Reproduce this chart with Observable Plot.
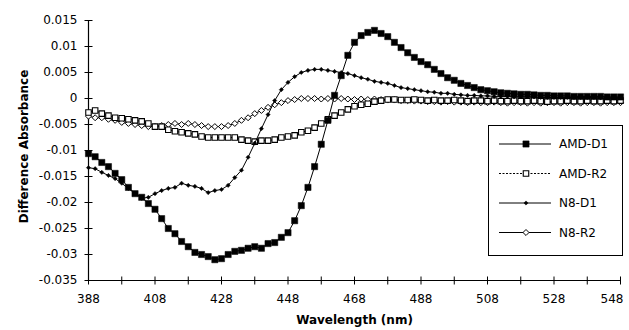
<!DOCTYPE html>
<html>
<head>
<meta charset="utf-8">
<script src="https://cdn.jsdelivr.net/npm/d3@7"></script>
<script src="https://cdn.jsdelivr.net/npm/@observablehq/plot@0.6"></script>
<style>
  html, body { margin: 0; padding: 0; background: #fff; }
  #wrap { position: relative; width: 629px; height: 330px; overflow: hidden; }
  #legend { position: absolute; left: 488px; top: 125px; width: 133px; height: 129px; border: 1px solid #000; background: #fff; }
</style>
</head>
<body>
<div id="wrap"><div id="chart"></div><div id="legend"></div></div>
<script>
const wavelengths = [388,390,392,394,396,398,400,402,404,406,408,410,412,414,416,418,420,422,424,426,428,430,432,434,436,438,440,442,444,446,448,450,452,454,456,458,460,462,464,466,468,470,472,474,476,478,480,482,484,486,488,490,492,494,496,498,500,502,504,506,508,510,512,514,516,518,520,522,524,526,528,530,532,534,536,538,540,542,544,546,548];

const amdD1 = [-0.0106,-0.0112,-0.0123,-0.0131,-0.0144,-0.0156,-0.0171,-0.0183,-0.0190,-0.0202,-0.0213,-0.0231,-0.0250,-0.0260,-0.0275,-0.0285,-0.0296,-0.0300,-0.0304,-0.0310,-0.0308,-0.0300,-0.0294,-0.0292,-0.0288,-0.0285,-0.0288,-0.0279,-0.0277,-0.0267,-0.0258,-0.0235,-0.0206,-0.0171,-0.0131,-0.0088,-0.0042,0.0006,0.0044,0.0083,0.0108,0.0121,0.0127,0.0131,0.0125,0.0119,0.0108,0.0098,0.0088,0.0079,0.0071,0.0065,0.0056,0.0048,0.0040,0.0035,0.0029,0.0025,0.0021,0.0017,0.0015,0.0013,0.0011,0.0010,0.0009,0.0008,0.0008,0.0007,0.0006,0.0006,0.0005,0.0005,0.0005,0.0004,0.0004,0.0004,0.0004,0.0004,0.0003,0.0003,0.0003];

const amdR2 = [-0.0027,-0.0023,-0.0029,-0.0033,-0.0037,-0.0038,-0.0040,-0.0042,-0.0044,-0.0048,-0.0054,-0.0054,-0.0060,-0.0063,-0.0065,-0.0067,-0.0069,-0.0073,-0.0075,-0.0075,-0.0075,-0.0075,-0.0075,-0.0079,-0.0081,-0.0083,-0.0081,-0.0081,-0.0079,-0.0075,-0.0073,-0.0071,-0.0065,-0.0062,-0.0056,-0.0048,-0.0040,-0.0033,-0.0027,-0.0021,-0.0015,-0.0012,-0.0010,-0.0006,-0.0004,-0.0002,-0.0002,-0.0003,-0.0003,-0.0002,-0.0003,-0.0004,-0.0003,-0.0004,-0.0004,-0.0003,-0.0004,-0.0005,-0.0004,-0.0004,-0.0005,-0.0004,-0.0005,-0.0005,-0.0004,-0.0005,-0.0005,-0.0004,-0.0005,-0.0006,-0.0005,-0.0005,-0.0004,-0.0005,-0.0005,-0.0004,-0.0005,-0.0005,-0.0004,-0.0005,-0.0004];

const n8D1 = [-0.0133,-0.0135,-0.0142,-0.0148,-0.0154,-0.0163,-0.0173,-0.0183,-0.0192,-0.0190,-0.0183,-0.0177,-0.0173,-0.0171,-0.0163,-0.0167,-0.0169,-0.0173,-0.0181,-0.0177,-0.0175,-0.0167,-0.0152,-0.0138,-0.0113,-0.0086,-0.0058,-0.0031,-0.0004,0.0017,0.0031,0.0042,0.0050,0.0054,0.0056,0.0056,0.0054,0.0052,0.0050,0.0048,0.0044,0.0040,0.0037,0.0033,0.0031,0.0029,0.0025,0.0021,0.0019,0.0017,0.0015,0.0013,0.0012,0.0010,0.0010,0.0008,0.0007,0.0006,0.0006,0.0005,0.0005,0.0004,0.0004,0.0004,0.0003,0.0003,0.0003,0.0003,0.0002,0.0002,0.0002,0.0002,0.0002,0.0002,0.0002,0.0002,0.0002,0.0001,0.0001,0.0001,0.0001];

const n8R2 = [-0.0034,-0.0037,-0.0037,-0.0040,-0.0042,-0.0046,-0.0048,-0.0050,-0.0052,-0.0054,-0.0054,-0.0052,-0.0050,-0.0048,-0.0050,-0.0048,-0.0050,-0.0052,-0.0054,-0.0054,-0.0054,-0.0052,-0.0048,-0.0042,-0.0037,-0.0029,-0.0023,-0.0017,-0.0012,-0.0008,-0.0004,-0.0002,0.0000,0.0000,0.0000,-0.0001,0.0000,-0.0001,0.0000,-0.0001,-0.0002,-0.0001,-0.0002,-0.0001,-0.0002,-0.0003,-0.0003,-0.0004,-0.0004,-0.0005,-0.0005,-0.0006,-0.0006,-0.0007,-0.0006,-0.0007,-0.0007,-0.0008,-0.0007,-0.0008,-0.0008,-0.0007,-0.0008,-0.0009,-0.0008,-0.0008,-0.0009,-0.0008,-0.0009,-0.0008,-0.0008,-0.0009,-0.0008,-0.0008,-0.0009,-0.0008,-0.0008,-0.0009,-0.0008,-0.0008,-0.0008];

const seriesNames = ["AMD-D1", "AMD-R2", "N8-D1", "N8-R2"];
const xDomain = [388, 548];
const yDomain = [-0.035, 0.015];
const xTickLabels = [388, 408, 428, 448, 468, 488, 508, 528, 548];
const xTicks = [388, 398, 408, 418, 428, 438, 448, 458, 468, 478, 488, 498, 508, 518, 528, 538, 548];
const yTicks = [0.015, 0.01, 0.005, 0, -0.005, -0.01, -0.015, -0.02, -0.025, -0.03, -0.035];
const xLabel = "Wavelength (nm)";
const yLabel = "Difference Absorbance";

const seriesValues = [amdD1, amdR2, n8D1, n8R2];
const styles = {
  "AMD-D1": {symbol: "square", r: 3.5, fill: "#000", stroke: "#000", sw: 0.5, dash: null},
  "AMD-R2": {symbol: "square", r: 3.1, fill: "#fff", stroke: "#000", sw: 1.1, dash: "2,1.5"},
  "N8-D1":  {symbol: "diamond2", r: 1.9, fill: "#000", stroke: "#000", sw: 0.5, dash: null},
  "N8-R2":  {symbol: "diamond2", r: 2.7, fill: "#fff", stroke: "#000", sw: 1, dash: null}
};

const rows = seriesNames.map((name, i) => wavelengths.map((w, j) => ({series: name, x: w, y: seriesValues[i][j]})));

const hTick = {draw(ctx) { ctx.moveTo(-4, 0); ctx.lineTo(4, 0); }};
const vTick = {draw(ctx) { ctx.moveTo(0, -4); ctx.lineTo(0, 4); }};

const drawOrder = [3, 1, 2, 0];
const seriesMarks = drawOrder.flatMap(i => {
  const s = styles[seriesNames[i]];
  return [
    Plot.line(rows[i], {x: "x", y: "y", stroke: "#000", strokeWidth: 1}),
    Plot.dot(rows[i], {x: "x", y: "y", symbol: s.symbol, r: s.r, fill: s.fill, stroke: s.stroke, strokeWidth: s.sw})
  ];
});

const lastX = xTickLabels[xTickLabels.length - 1];

const chart = Plot.plot({
  width: 629,
  height: 330,
  marginLeft: 88,
  marginRight: 9,
  marginTop: 20,
  marginBottom: 50,
  x: {domain: xDomain, label: null},
  y: {domain: yDomain, label: null},
  style: {fontFamily: "'DejaVu Sans', sans-serif", fontSize: "12px", color: "#000", background: "#fff"},
  marks: [
    Plot.ruleX([xDomain[0]], {y1: yDomain[0], y2: yDomain[1], stroke: "#000", strokeWidth: 1.2}),
    Plot.ruleY([yDomain[0]], {x1: xDomain[0], x2: xDomain[1], stroke: "#000", strokeWidth: 1.2}),
    Plot.dot(yTicks, {x: () => xDomain[0], y: d => d, symbol: hTick, r: 4, stroke: "#000", fill: "none", strokeWidth: 1}),
    Plot.dot(xTicks, {x: d => d, y: () => yDomain[0], symbol: vTick, r: 4, stroke: "#000", fill: "none", strokeWidth: 1}),
    Plot.axisY(yTicks, {tickSize: 0, tickPadding: 11, tickFormat: d => String(d), label: null}),
    Plot.axisX(xTickLabels.slice(0, -1), {tickSize: 0, tickPadding: 14, tickFormat: d => String(d), label: null}),
    Plot.axisX([lastX], {tickSize: 0, tickPadding: 14, tickFormat: d => String(d), label: null, textAnchor: "end", dx: 3}),
    ...seriesMarks,
    Plot.text([xLabel], {frameAnchor: "bottom", dy: 43, fontWeight: "bold", fontSize: 12}),
    Plot.text([yLabel], {frameAnchor: "left", dx: -64, dy: -4, rotate: -90, textAnchor: "middle", fontWeight: "bold", fontSize: 12})
  ]
});
document.getElementById("chart").appendChild(chart);

// Legend
const lg = d3.select("#legend").append("svg").attr("width", 133).attr("height", 129)
  .style("font-family", "'DejaVu Sans', sans-serif").style("font-size", "12px");
seriesNames.forEach((name, i) => {
  const s = styles[name];
  const y = 18 + i * 29.5;
  lg.append("line").attr("x1", 10).attr("x2", 62).attr("y1", y).attr("y2", y)
    .attr("stroke", "#000").attr("stroke-width", 1).attr("stroke-dasharray", s.dash);
  const type = s.symbol === "square" ? d3.symbolSquare : d3.symbolDiamond2;
  lg.append("path").attr("d", d3.symbol(type, Math.PI * s.r * s.r)())
    .attr("transform", `translate(37,${y})`)
    .attr("fill", s.fill).attr("stroke", s.stroke).attr("stroke-width", s.sw);
  lg.append("text").attr("x", 70).attr("y", y).attr("dy", "0.35em").text(name);
});
</script>
</body>
</html>
